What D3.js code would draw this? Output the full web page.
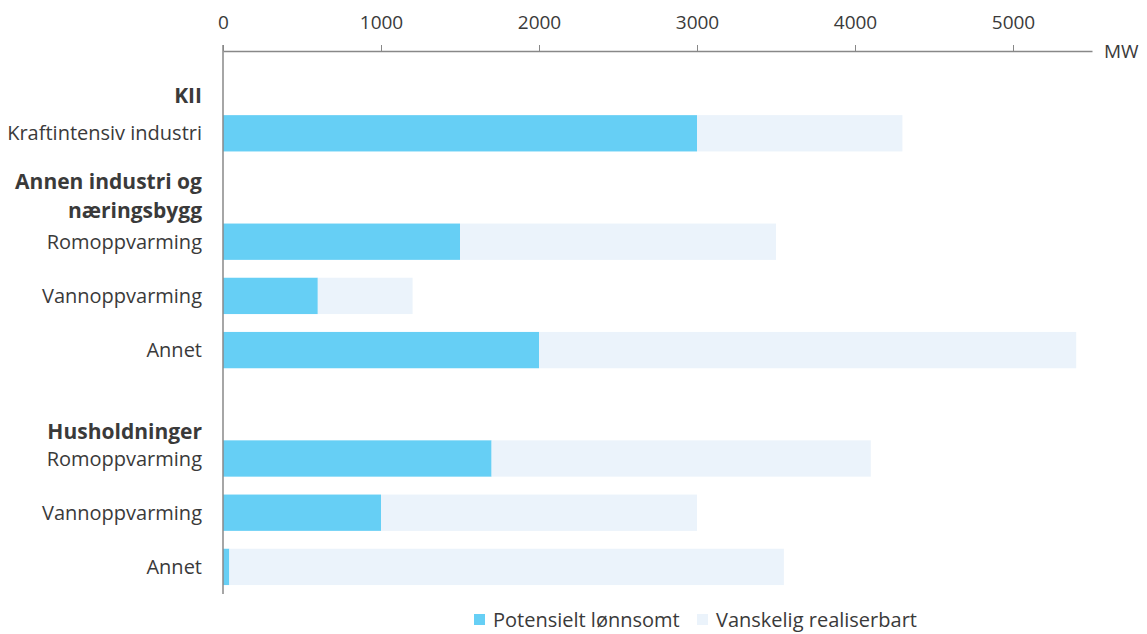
<!DOCTYPE html>
<html>
<head>
<meta charset="utf-8">
<script src="https://cdn.jsdelivr.net/npm/d3@7"></script>
<style>
  body { margin: 0; background: #fff; }
  text { font-family: "Open Sans", sans-serif; fill: #3a3a3a; }
</style>
</head>
<body>
<div id="chart"></div>
<script>
// Rows of the chart, top to bottom (header rows have no bars)
const rows = ["hKII", "kii", "hAnnen", "aRom", "aVann", "aAnnet", "hHus", "hRom", "hVann", "hAnnet"];
const rowLabels = ["", "Kraftintensiv industri", "", "Romoppvarming", "Vannoppvarming", "Annet", "", "Romoppvarming", "Vannoppvarming", "Annet"];
const barRows = ["kii", "aRom", "aVann", "aAnnet", "hRom", "hVann", "hAnnet"];
const lonnsomt = [3000, 1500, 600, 2000, 1700, 1000, 40];
const vanskelig = [1300, 2000, 600, 3400, 2400, 2000, 3510];
const seriesNames = ["Potensielt lønnsomt", "Vanskelig realiserbart"];
const colors = ["#66cff5", "#ebf3fb"];
const xTicks = [0, 1000, 2000, 3000, 4000, 5000];

const W = 1147, H = 634;
const plotLeft = 223, plotRight = 1092, plotTop = 52, plotBottom = 594;

const svg = d3.select("#chart").append("svg")
  .attr("width", W).attr("height", H);

const x = d3.scaleLinear().domain([0, 5500]).range([plotLeft, plotRight]);
const y = d3.scaleBand().domain(rows).range([plotTop, plotBottom]).paddingInner(0.33).paddingOuter(0.165);

// stacked data
const data = barRows.map((r, i) => ({ row: r, a: lonnsomt[i], b: vanskelig[i] }));
const stack = d3.stack().keys(["a", "b"])(data);

svg.append("g").selectAll("g")
  .data(stack)
  .enter().append("g")
    .attr("fill", (d, i) => colors[i])
  .selectAll("rect")
  .data(d => d)
  .enter().append("rect")
    .attr("x", d => x(d[0]))
    .attr("width", d => x(d[1]) - x(d[0]))
    .attr("y", d => y(d.data.row))
    .attr("height", y.bandwidth());

// top axis
const xAxis = svg.append("g")
  .attr("transform", "translate(0," + 51 + ")")
  .call(d3.axisTop(x).tickValues(xTicks).tickFormat(d3.format("d"))
    .tickSizeOuter(0).tickSizeInner(6).tickPadding(16));
xAxis.select(".domain").attr("stroke", "#888").attr("stroke-width", 1.5);
xAxis.selectAll(".tick line").attr("stroke", "#888");
xAxis.selectAll(".tick text").style("font-size", "19px").attr("fill", "#3a3a3a")
  .style("font-family", "'Open Sans', sans-serif");

svg.append("text")
  .attr("x", 1104).attr("y", 58)
  .style("font-size", "19px")
  .text("MW");

// left axis line
svg.append("line")
  .attr("x1", x(0)).attr("x2", x(0))
  .attr("y1", 45).attr("y2", plotBottom)
  .attr("stroke", "#888").attr("stroke-width", 1.5);

// row labels
svg.append("g").selectAll("text")
  .data(rows.filter((r, i) => rowLabels[i] !== ""))
  .enter().append("text")
    .attr("x", 202)
    .attr("y", d => y(d) + y.bandwidth() / 2)
    .attr("dy", "0.35em")
    .attr("text-anchor", "end")
    .style("font-size", "20px")
    .text(d => rowLabels[rows.indexOf(d)]);

// group headers
const headers = [
  { row: "hKII", lines: ["KII"], dy: 17 },
  { row: "hAnnen", lines: ["Annen industri og", "næringsbygg"], dy: -6 },
  { row: "hHus", lines: ["Husholdninger"], dy: 27 }
];
headers.forEach(h => {
  h.lines.forEach((t, k) => {
    svg.append("text")
      .attr("x", 202)
      .attr("y", y(h.row) + y.bandwidth() / 2 + h.dy + k * 29)
      .attr("dy", "0.35em")
      .attr("text-anchor", "end")
      .style("font-size", "21px")
      .style("font-weight", "bold")
      .attr("fill", "#111")
      .text(t);
  });
});

// legend
const legendX = [474, 697];
const legend = svg.append("g").selectAll("g")
  .data(seriesNames)
  .enter().append("g")
    .attr("transform", (d, i) => "translate(" + legendX[i] + ",614)");
legend.append("rect")
  .attr("width", 11).attr("height", 11)
  .attr("fill", (d, i) => colors[i]);
legend.append("text")
  .attr("x", 19).attr("y", 5.5)
  .attr("dy", "0.35em")
  .style("font-size", "20px")
  .text(d => d);
</script>
</body>
</html>
